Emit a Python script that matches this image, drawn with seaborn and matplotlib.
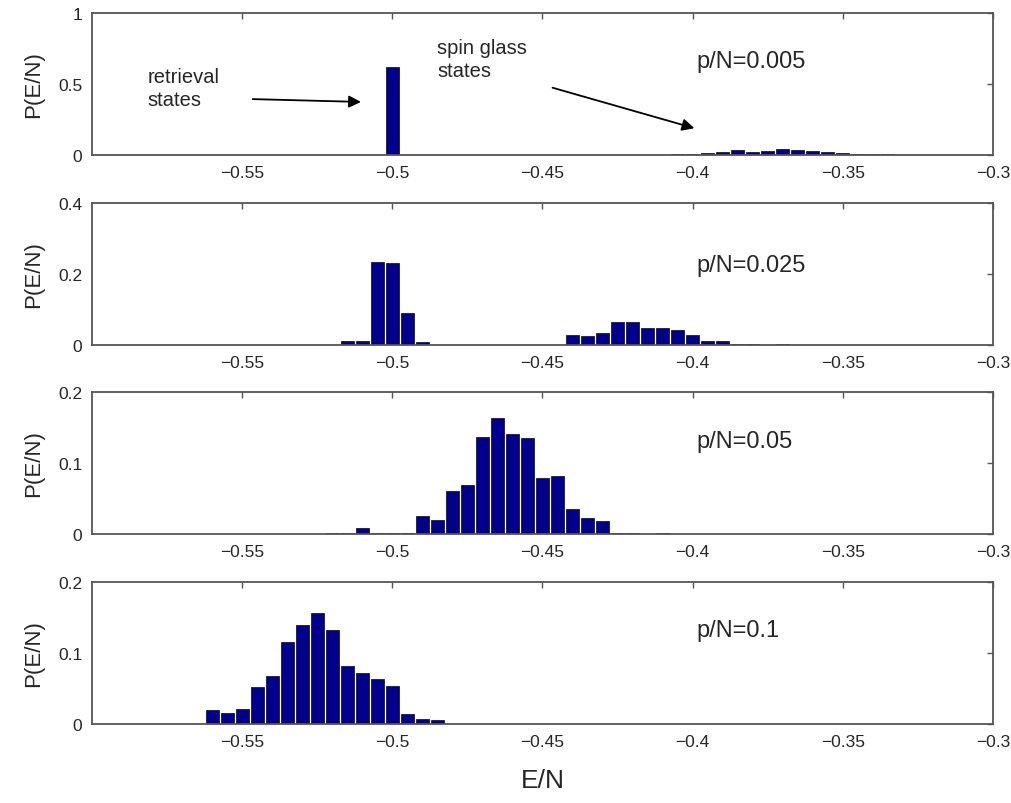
import numpy as np
import matplotlib
matplotlib.use('Agg')
import matplotlib.pyplot as plt
import seaborn as sns

# energy histograms, bin centres (E/N) and heights P(E/N)
e_005 = [-0.5, -0.405, -0.4, -0.395, -0.39, -0.385, -0.38, -0.375, -0.37,
         -0.365, -0.36, -0.355, -0.35, -0.345, -0.34, -0.335]
p_005 = [0.62, 0.005, 0.01, 0.012, 0.022, 0.038, 0.024, 0.03, 0.042,
         0.034, 0.028, 0.02, 0.012, 0.008, 0.006, 0.005]

e_025 = [-0.515, -0.51, -0.505, -0.5, -0.495, -0.49,
         -0.44, -0.435, -0.43, -0.425, -0.42, -0.415, -0.41, -0.405, -0.4,
         -0.395, -0.39, -0.385, -0.38, -0.37]
p_025 = [0.011, 0.011, 0.235, 0.231, 0.091, 0.008,
         0.028, 0.026, 0.035, 0.066, 0.065, 0.048, 0.048, 0.043, 0.029,
         0.012, 0.011, 0.003, 0.003, 0.003]

e_05 = [-0.52, -0.515, -0.51, -0.505, -0.5, -0.495, -0.49, -0.485, -0.48,
        -0.475, -0.47, -0.465, -0.46, -0.455, -0.45, -0.445, -0.44, -0.435,
        -0.43, -0.425, -0.42, -0.41]
p_05 = [0.002, 0.002, 0.009, 0.002, 0.002, 0.002, 0.026, 0.019, 0.061,
        0.069, 0.137, 0.163, 0.141, 0.135, 0.079, 0.082, 0.035, 0.023,
        0.018, 0.002, 0.002, 0.002]

e_1 = [-0.56, -0.555, -0.55, -0.545, -0.54, -0.535, -0.53, -0.525, -0.52,
       -0.515, -0.51, -0.505, -0.5, -0.495, -0.49, -0.485]
p_1 = [0.019, 0.016, 0.021, 0.052, 0.067, 0.115, 0.139, 0.157, 0.132,
       0.081, 0.072, 0.063, 0.053, 0.014, 0.0075, 0.005]

panels = [(e_005, p_005, 'p/N=0.005', [0, 0.5, 1], ['0', '0.5', '1'], 0.662),
          (e_025, p_025, 'p/N=0.025', [0, 0.2, 0.4], ['0', '0.2', '0.4'], 0.566),
          (e_05, p_05, 'p/N=0.05', [0, 0.1, 0.2], ['0', '0.1', '0.2'], 0.655),
          (e_1, p_1, 'p/N=0.1', [0, 0.1, 0.2], ['0', '0.1', '0.2'], 0.664)]

xticks = [-0.55, -0.5, -0.45, -0.4, -0.35, -0.3]
xticklabels = ['\u22120.55', '\u22120.5', '\u22120.45', '\u22120.4', '\u22120.35', '\u22120.3']

sns.set_style('white')
plt.rcParams['font.family'] = ['Liberation Sans', 'DejaVu Sans']
plt.rcParams['xtick.direction'] = 'in'
plt.rcParams['ytick.direction'] = 'in'

bar_color = '#00008C'
frame_color = '#555555'
binw = 0.005

fig = plt.figure(figsize=(10.11, 8.04), dpi=100)
bottoms = [0.806, 0.5697, 0.3346, 0.0983]
axes = []
for (e, p, lab, yt, ytl, ty), b in zip(panels, bottoms):
    ax = fig.add_axes([0.091, b, 0.891, 0.1766])
    lo = min(e) - binw / 2
    hi = max(e) + binw / 2
    nb = int(round((hi - lo) / binw))
    sns.histplot(x=e, weights=p, bins=nb, binrange=(lo, hi), ax=ax, shrink=0.86,
                 color=bar_color, edgecolor='#1a1a2e', linewidth=0.6, alpha=1)
    ax.set_xlim(-0.6, -0.3)
    ax.set_ylim(yt[0], yt[-1])
    ax.set_xticks(xticks)
    ax.set_xticklabels(xticklabels)
    ax.set_yticks(yt)
    ax.set_yticklabels(ytl)
    ax.tick_params(labelsize=12.5, length=4, width=1, color=frame_color,
                   top=True, right=True, pad=7)
    for s in ax.spines.values():
        s.set_color(frame_color)
        s.set_linewidth(1.3)
    ax.set_ylabel('P(E/N)', fontsize=16, labelpad=10)
    ax.set_xlabel('')
    ax.text(0.671, ty, lab, transform=ax.transAxes, fontsize=17,
            ha='left', va='center')
    axes.append(ax)

ax0 = axes[0]
ax0.text(-0.5815, 0.47, 'retrieval\nstates', fontsize=14.5, ha='left', va='center',
         linespacing=1.3)
ax0.annotate('', xy=(-0.5095, 0.373), xytext=(-0.5474, 0.394),
             arrowprops=dict(arrowstyle='-|>', color='black', lw=1.3,
                             mutation_scale=18))
ax0.text(-0.4851, 0.676, 'spin glass\nstates', fontsize=14.5, ha='left', va='center',
         linespacing=1.3)
ax0.annotate('', xy=(-0.3985, 0.183), xytext=(-0.4475, 0.479),
             arrowprops=dict(arrowstyle='-|>', color='black', lw=1.3,
                             mutation_scale=18))

axes[-1].set_xlabel('E/N', fontsize=19, labelpad=14)

plt.savefig('out.png', dpi=100)
